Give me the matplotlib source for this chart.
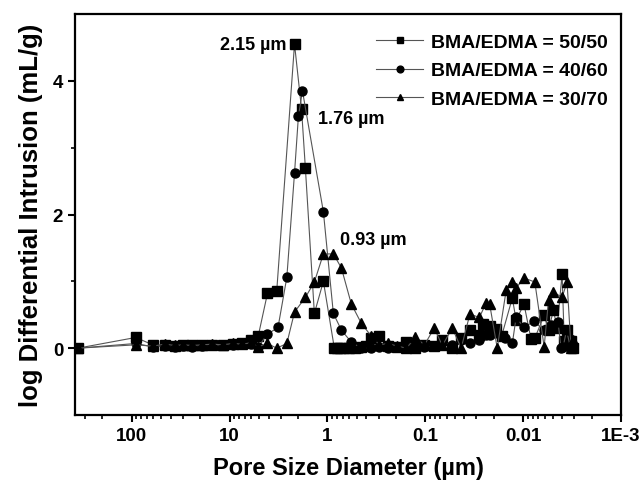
import matplotlib

matplotlib.use("Agg")
import matplotlib.pyplot as plt
from matplotlib.ticker import FixedLocator, LogLocator, NullFormatter

plt.rcParams["font.family"] = ["Liberation Sans", "DejaVu Sans"]
plt.rcParams["font.weight"] = "bold"

# pore diameter (um) and log differential intrusion (mL/g)
d_5050 = [355, 91, 61, 46, 36, 30, 24, 19, 15, 11.8, 9.3, 7.4, 6.1, 5.1, 4.1, 3.3,
          2.17, 1.84, 1.68, 1.36, 1.1, 0.85, 0.8, 0.75, 0.68, 0.6, 0.52, 0.45, 0.4,
          0.356, 0.295, 0.239, 0.193, 0.156, 0.126, 0.102, 0.081, 0.067, 0.053,
          0.043, 0.035, 0.028, 0.026, 0.022, 0.019, 0.0166, 0.0129, 0.0118, 0.0098,
          0.0083, 0.0076, 0.0061, 0.0055, 0.0049, 0.0045, 0.0040, 0.0038, 0.00356,
          0.0034, 0.00324, 0.0031]
v_5050 = [0.0, 0.16, 0.05, 0.04, 0.03, 0.04, 0.05, 0.05, 0.04, 0.05, 0.06, 0.08,
          0.12, 0.18, 0.82, 0.85, 4.55, 3.58, 2.69, 0.52, 1.0, 0.0, 0.0, 0.0, 0.0,
          0.0, 0.0, 0.02, 0.03, 0.15, 0.18, 0.03, 0.02, 0.09, 0.0, 0.04, 0.03, 0.12,
          0.0, 0.15, 0.27, 0.2, 0.36, 0.33, 0.28, 0.18, 0.75, 0.42, 0.66, 0.13,
          0.15, 0.49, 0.27, 0.57, 0.3, 1.11, 0.1, 0.27, 0.05, 0.1, 0.0]

d_4060 = [355, 91, 61, 46, 36, 30, 24, 19, 15, 11.8, 9.3, 7.4, 6.1, 5.1, 4.1, 3.2,
          2.6, 2.17, 1.98, 1.8, 1.1, 0.87, 0.72, 0.57, 0.45, 0.356, 0.295, 0.239,
          0.193, 0.156, 0.126, 0.102, 0.081, 0.067, 0.053, 0.043, 0.035, 0.028,
          0.024, 0.022, 0.0184, 0.0155, 0.0129, 0.0118, 0.0098, 0.0078, 0.0061,
          0.0052, 0.0044, 0.0041, 0.0039, 0.0036, 0.0033]
v_4060 = [0.0, 0.07, 0.02, 0.03, 0.02, 0.03, 0.02, 0.03, 0.04, 0.04, 0.05, 0.07,
          0.06, 0.02, 0.21, 0.31, 1.06, 2.62, 3.47, 3.85, 2.04, 0.52, 0.27, 0.09,
          0.0, 0.0, 0.01, 0.0, 0.02, 0.0, 0.01, 0.02, 0.03, 0.09, 0.05, 0.12, 0.07,
          0.12, 0.2, 0.19, 0.22, 0.15, 0.07, 0.46, 0.31, 0.4, 0.27, 0.34, 0.39, 0.0,
          0.02, 0.27, 0.02]

d_3070 = [355, 91, 61, 46, 36, 30, 24, 19, 15, 11.8, 9.3, 7.4, 6.1, 5.1, 4.1, 3.3,
          2.6, 2.17, 1.68, 1.36, 1.1, 0.87, 0.72, 0.57, 0.45, 0.356, 0.295, 0.239,
          0.193, 0.156, 0.126, 0.102, 0.081, 0.067, 0.053, 0.043, 0.035, 0.028,
          0.024, 0.022, 0.0184, 0.0149, 0.0129, 0.0118, 0.0098, 0.0076, 0.0061,
          0.0055, 0.0049, 0.0040, 0.00356, 0.00324, 0.0031]
v_3070 = [0.0, 0.05, 0.03, 0.06, 0.04, 0.05, 0.04, 0.05, 0.06, 0.05, 0.07, 0.06,
          0.08, 0.02, 0.07, 0.0, 0.07, 0.54, 0.76, 0.99, 1.41, 1.41, 1.2, 0.66,
          0.37, 0.18, 0.05, 0.07, 0.03, 0.0, 0.16, 0.05, 0.3, 0.04, 0.3, 0.0, 0.51,
          0.46, 0.67, 0.66, 0.0, 0.87, 0.99, 0.9, 1.05, 0.99, 0.02, 0.72, 0.84,
          0.76, 0.99, 0.0, 0.12]

series = [
    (d_5050, v_5050, "s", "BMA/EDMA = 50/50"),
    (d_4060, v_4060, "o", "BMA/EDMA = 40/60"),
    (d_3070, v_3070, "^", "BMA/EDMA = 30/70"),
]

xticks = [100, 10, 1, 0.1, 0.01, 0.001]
xtick_labels = ["100", "10", "1", "0.1", "0.01", "1E-3"]

fig = plt.figure(figsize=(6.42, 4.89), dpi=100)
ax = fig.add_axes([75 / 642, 1 - 416 / 489, 546 / 642, 401 / 489])

for d, v, m, lab in series:
    ax.plot(d, v, marker=m, color="#555555", lw=0.8, ms=6.5,
            mfc="black", mec="black", label=lab)

ax.set_xscale("log")
ax.set_xlim(380, 0.001)
ax.set_ylim(-1, 5)
ax.xaxis.set_major_locator(FixedLocator(xticks))
ax.set_xticklabels(xtick_labels)
ax.xaxis.set_minor_locator(LogLocator(base=10, subs=range(2, 10), numticks=20))
ax.xaxis.set_minor_formatter(NullFormatter())
ax.set_yticks([0, 2, 4])
ax.set_yticks([1, 3], minor=True)

for s in ax.spines.values():
    s.set_linewidth(1.6)
ax.tick_params(which="major", direction="out", length=5, width=1.5, labelsize=13.5,
               top=False, right=False)
ax.tick_params(which="minor", direction="out", length=3, width=1.2,
               top=False, right=False)

ax.set_xlabel("Pore Size Diameter (µm)", fontsize=17, fontweight="bold", labelpad=9)
ax.set_ylabel("log Differential Intrusion (mL/g)", fontsize=18.5, fontweight="bold",
              labelpad=7)

ax.text(2.6, 4.55, "2.15 µm", fontsize=13, fontweight="bold", ha="right", va="center")
ax.text(1.25, 3.44, "1.76 µm", fontsize=13, fontweight="bold", ha="left", va="center")
ax.text(0.75, 1.62, "0.93 µm", fontsize=13, fontweight="bold", ha="left", va="center")

ax.legend(loc="upper right", bbox_to_anchor=(1.011, 1.0), frameon=False,
          handlelength=2.4, handletextpad=0.4, borderaxespad=0.6,
          labelspacing=0.55, markerscale=0.75,
          prop={"weight": "bold", "size": 14})

fig.savefig("out.png", dpi=100)
